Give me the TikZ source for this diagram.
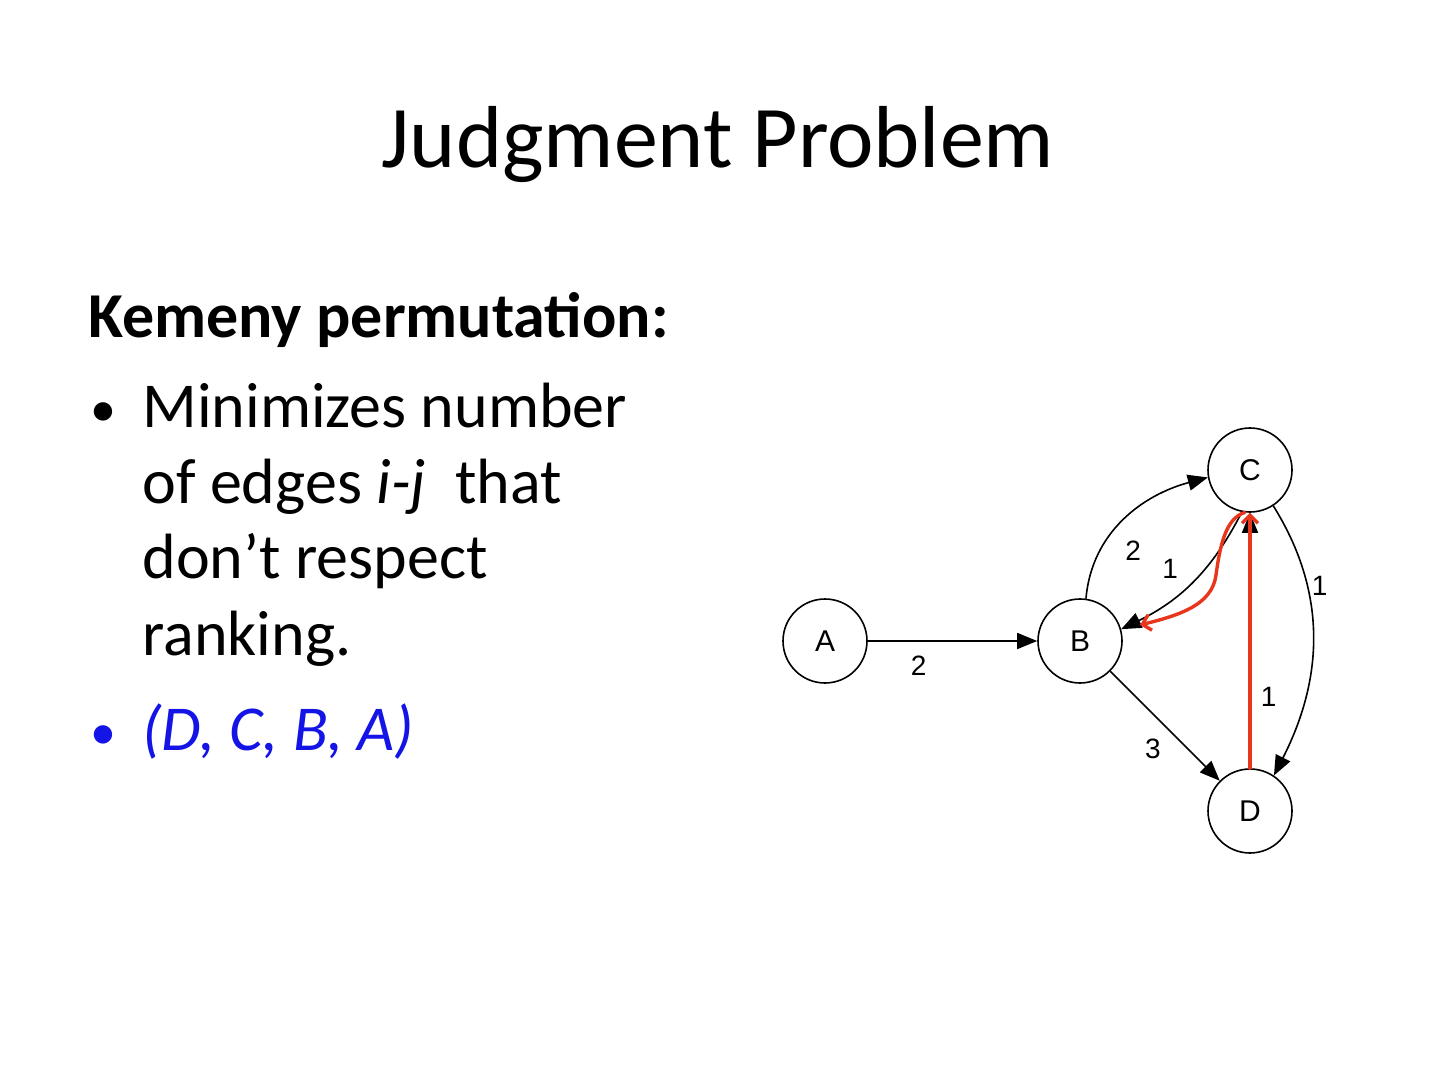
\documentclass[tikz,border=0pt]{standalone}
\usepackage{fontspec}
\setmainfont{Carlito}
\newfontfamily\graphfont{Liberation Sans}
\usetikzlibrary{arrows.meta}
\definecolor{kmred}{HTML}{E8361C}
\definecolor{kmblue}{HTML}{1414E6}

\begin{document}
\begin{tikzpicture}[x=0.5pt,y=0.5pt,
  vtx/.style={draw,circle,line width=0.8pt,minimum size=42pt,inner sep=0pt,font=\graphfont\fontsize{15}{17}\selectfont},
  edge/.style={line width=0.8pt,-{Triangle[length=10pt,width=8pt]}},
  wt/.style={font=\graphfont\fontsize{14}{16}\selectfont,inner sep=2pt},
  fix/.style={kmred,line width=1.7pt,line cap=round,-{Straight Barb[length=4pt,width=8pt]}},
  body/.style={anchor=base west,font=\fontsize{32}{38}\selectfont,inner sep=0pt},
  dotmark/.style={anchor=base west,font=\fontsize{26}{30}\selectfont,inner sep=0pt}]
  \useasboundingbox (0,0) rectangle (1440,-1080);
  % slide text
  \node[anchor=base,inner sep=0pt,font=\fontsize{44}{53}\selectfont] (title) at (718,-168) {Judgment Problem};
  \node[body,font=\bfseries\fontsize{32}{38}\selectfont] (head) at (88,-338) {Kemeny permutation:};
  \node[dotmark] (dot1) at (90,-427) {•};
  \node[body] (ln1) at (142,-428) {Minimizes number};
  \node[body] (ln2) at (142,-503) {of edges \textit{i-j}\ \ that};
  \node[body] (ln3) at (142,-578) {don’t respect};
  \node[body] (ln4) at (142,-655) {ranking.};
  \node[dotmark,text=kmblue] (dot2) at (90,-749) {•};
  \node[body,text=kmblue] (ln5) at (142,-750) {\textit{(D, C, B, A)}};
  % graph
  \node[vtx] (A) at (825,-641) {A};
  \node[vtx] (B) at (1080,-641) {B};
  \node[vtx] (C) at (1250,-470) {C};
  \node[vtx] (D) at (1250,-811) {D};
  \draw[edge] (A) -- node[wt,below,pos=0.3,yshift=-5pt] (wab) {2} (B);
  \draw[edge] (B.82) to[out=85,in=195] node[wt,pos=0.3,right,xshift=9pt,yshift=-2pt] (wbc) {2} (C.190);
  \draw[edge] (C.259) to[out=243,in=26] node[wt,pos=0.55,above left,xshift=-2pt,yshift=2pt] (wcb) {1} (B.16);
  \draw[edge] (C.-57) to[out=-58,in=63] node[wt,pos=0.3,right] (wcd) {1} (D.56);
  \draw[edge] (D) -- node[wt,pos=0.28,right,xshift=3pt] (wdc) {1} (C);
  \draw[edge] (B) -- node[wt,pos=0.54,below left,xshift=-2pt,yshift=-2pt] (wbd) {3} (D);
  % red corrections
  \coordinate (rtip) at (1140,-625);
  \draw[fix] (D.north) -- (C.south);
  \draw[fix] (C.263) .. controls (1226,-518) and (1220,-545) .. (1216,-575) .. controls (1212,-605) and (1180,-615) .. (rtip);
\end{tikzpicture}
\end{document}
